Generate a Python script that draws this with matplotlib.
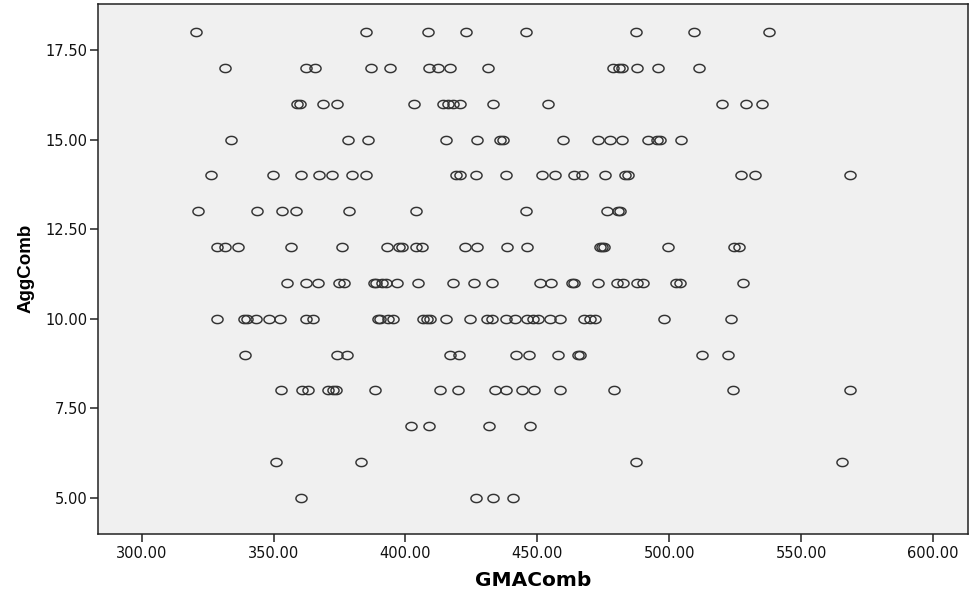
import numpy as np
import matplotlib
matplotlib.use("Agg")
import matplotlib.pyplot as plt
from matplotlib.path import Path

# GMAComb scores grouped by their AggComb value
gma_agg18 = [320.6, 385.0, 408.5, 423.0, 445.6, 487.3, 509.5, 537.8]
gma_agg17 = [331.7, 362.3, 365.8, 386.9, 394.0, 409.0, 412.4, 416.8, 431.4,
             478.5, 481.0, 482.1, 487.8, 495.6, 511.4]
gma_agg16 = [358.9, 359.9, 368.8, 374.1, 403.1, 414.3, 416.0, 417.9, 420.7,
             433.2, 453.9, 520.1, 529.1, 535.0]
gma_agg15 = [333.9, 378.1, 386.0, 415.3, 427.0, 436.0, 437.0, 459.6, 473.1,
             477.5, 481.9, 492.0, 495.2, 496.5, 504.3]
gma_agg14 = [326.2, 349.8, 360.4, 367.1, 372.3, 379.7, 385.1, 419.1, 420.7,
             426.7, 438.2, 451.9, 456.7, 464.0, 466.8, 475.7, 483.3, 484.3,
             527.2, 532.5, 568.3]
gma_agg13 = [321.2, 343.7, 353.4, 358.4, 378.6, 403.9, 445.6, 476.3, 480.5, 481.5]
gma_agg12 = [328.4, 331.6, 336.6, 356.6, 375.8, 392.9, 397.7, 398.7, 404.0,
             406.1, 422.6, 427.2, 438.4, 446.2, 473.7, 474.5, 475.2, 499.4,
             524.7, 526.3]
gma_agg11 = [355.3, 362.3, 366.7, 374.9, 376.7, 388.0, 389.0, 391.0, 392.5,
             396.7, 404.6, 418.1, 426.1, 432.9, 451.0, 455.0, 463.0, 464.0,
             472.9, 480.1, 482.6, 487.6, 490.1, 502.5, 504.0, 528.0]
gma_agg10 = [328.4, 339.0, 339.8, 343.2, 348.4, 352.4, 362.5, 364.8, 389.5,
             390.3, 393.5, 395.4, 406.8, 408.0, 409.3, 415.2, 424.5, 430.8,
             432.7, 438.1, 441.5, 445.9, 448.4, 450.4, 454.8, 458.6, 467.7,
             470.0, 471.9, 498.1, 523.3]
gma_agg9 = [339.2, 374.1, 377.9, 416.9, 420.3, 441.9, 446.9, 457.9, 465.4,
            466.2, 512.5, 522.4]
gma_agg8 = [352.7, 360.7, 363.2, 370.7, 372.4, 373.5, 388.4, 413.1, 419.8,
            433.9, 438.1, 444.0, 448.7, 458.6, 479.2, 524.3, 568.5]
gma_agg7 = [402.0, 409.0, 431.6, 447.2]
gma_agg6 = [350.8, 383.1, 487.4, 565.4]
gma_agg5 = [360.3, 426.6, 433.3, 440.9]

agg_levels = [18, 17, 16, 15, 14, 13, 12, 11, 10, 9, 8, 7, 6, 5]
gma_groups = [gma_agg18, gma_agg17, gma_agg16, gma_agg15, gma_agg14,
              gma_agg13, gma_agg12, gma_agg11, gma_agg10, gma_agg9,
              gma_agg8, gma_agg7, gma_agg6, gma_agg5]

x_ticks = [300, 350, 400, 450, 500, 550, 600]
y_ticks = [5.0, 7.5, 10.0, 12.5, 15.0, 17.5]

gma = np.concatenate([np.asarray(g, float) for g in gma_groups])
agg = np.concatenate([np.full(len(g), lvl, float)
                      for lvl, g in zip(agg_levels, gma_groups)])

# slightly wide oval marker (hollow)
t = np.linspace(0, 2 * np.pi, 65)
oval = Path(np.column_stack([np.cos(t), 0.74 * np.sin(t)]), closed=True)

fig = plt.figure(figsize=(9.69, 5.95), dpi=100)
ax = fig.add_axes([98.3 / 969, 61 / 595, (968 - 98.3) / 969, (534 - 3.5) / 595])
ax.set_facecolor("#f0f0f0")

ax.plot(gma, agg, linestyle="none", marker=oval, markersize=8.0,
        markerfacecolor="none", markeredgecolor="#333333",
        markeredgewidth=1.05)

ax.set_xlim(283.6, 613.2)
ax.set_ylim(3.99, 18.8)
ax.set_xticks(x_ticks)
ax.set_yticks(y_ticks)
ax.set_xticklabels([f"{v:.2f}" for v in x_ticks])
ax.set_yticklabels([f"{v:.2f}" for v in y_ticks])

for side in ("left", "bottom", "top", "right"):
    ax.spines[side].set_color("#222222")
    ax.spines[side].set_linewidth(1.1)

ax.tick_params(axis="both", direction="out", length=5.5, width=1.1,
               color="#222222", labelsize=10.5, labelcolor="#111111")
ax.tick_params(axis="x", pad=3.4)
ax.tick_params(axis="y", pad=2.0)
for lbl in ax.get_xticklabels() + ax.get_yticklabels():
    lbl.set_family("DejaVu Sans")

ax.set_xlabel("GMAComb", fontsize=14.5, fontweight="bold",
              family=["DejaVu Sans"], labelpad=7)
ax.set_ylabel("AggComb", fontsize=13.5, fontweight="bold",
              family=["Liberation Sans", "DejaVu Sans"], labelpad=8)

fig.savefig("out.png", dpi=100, facecolor="white")
